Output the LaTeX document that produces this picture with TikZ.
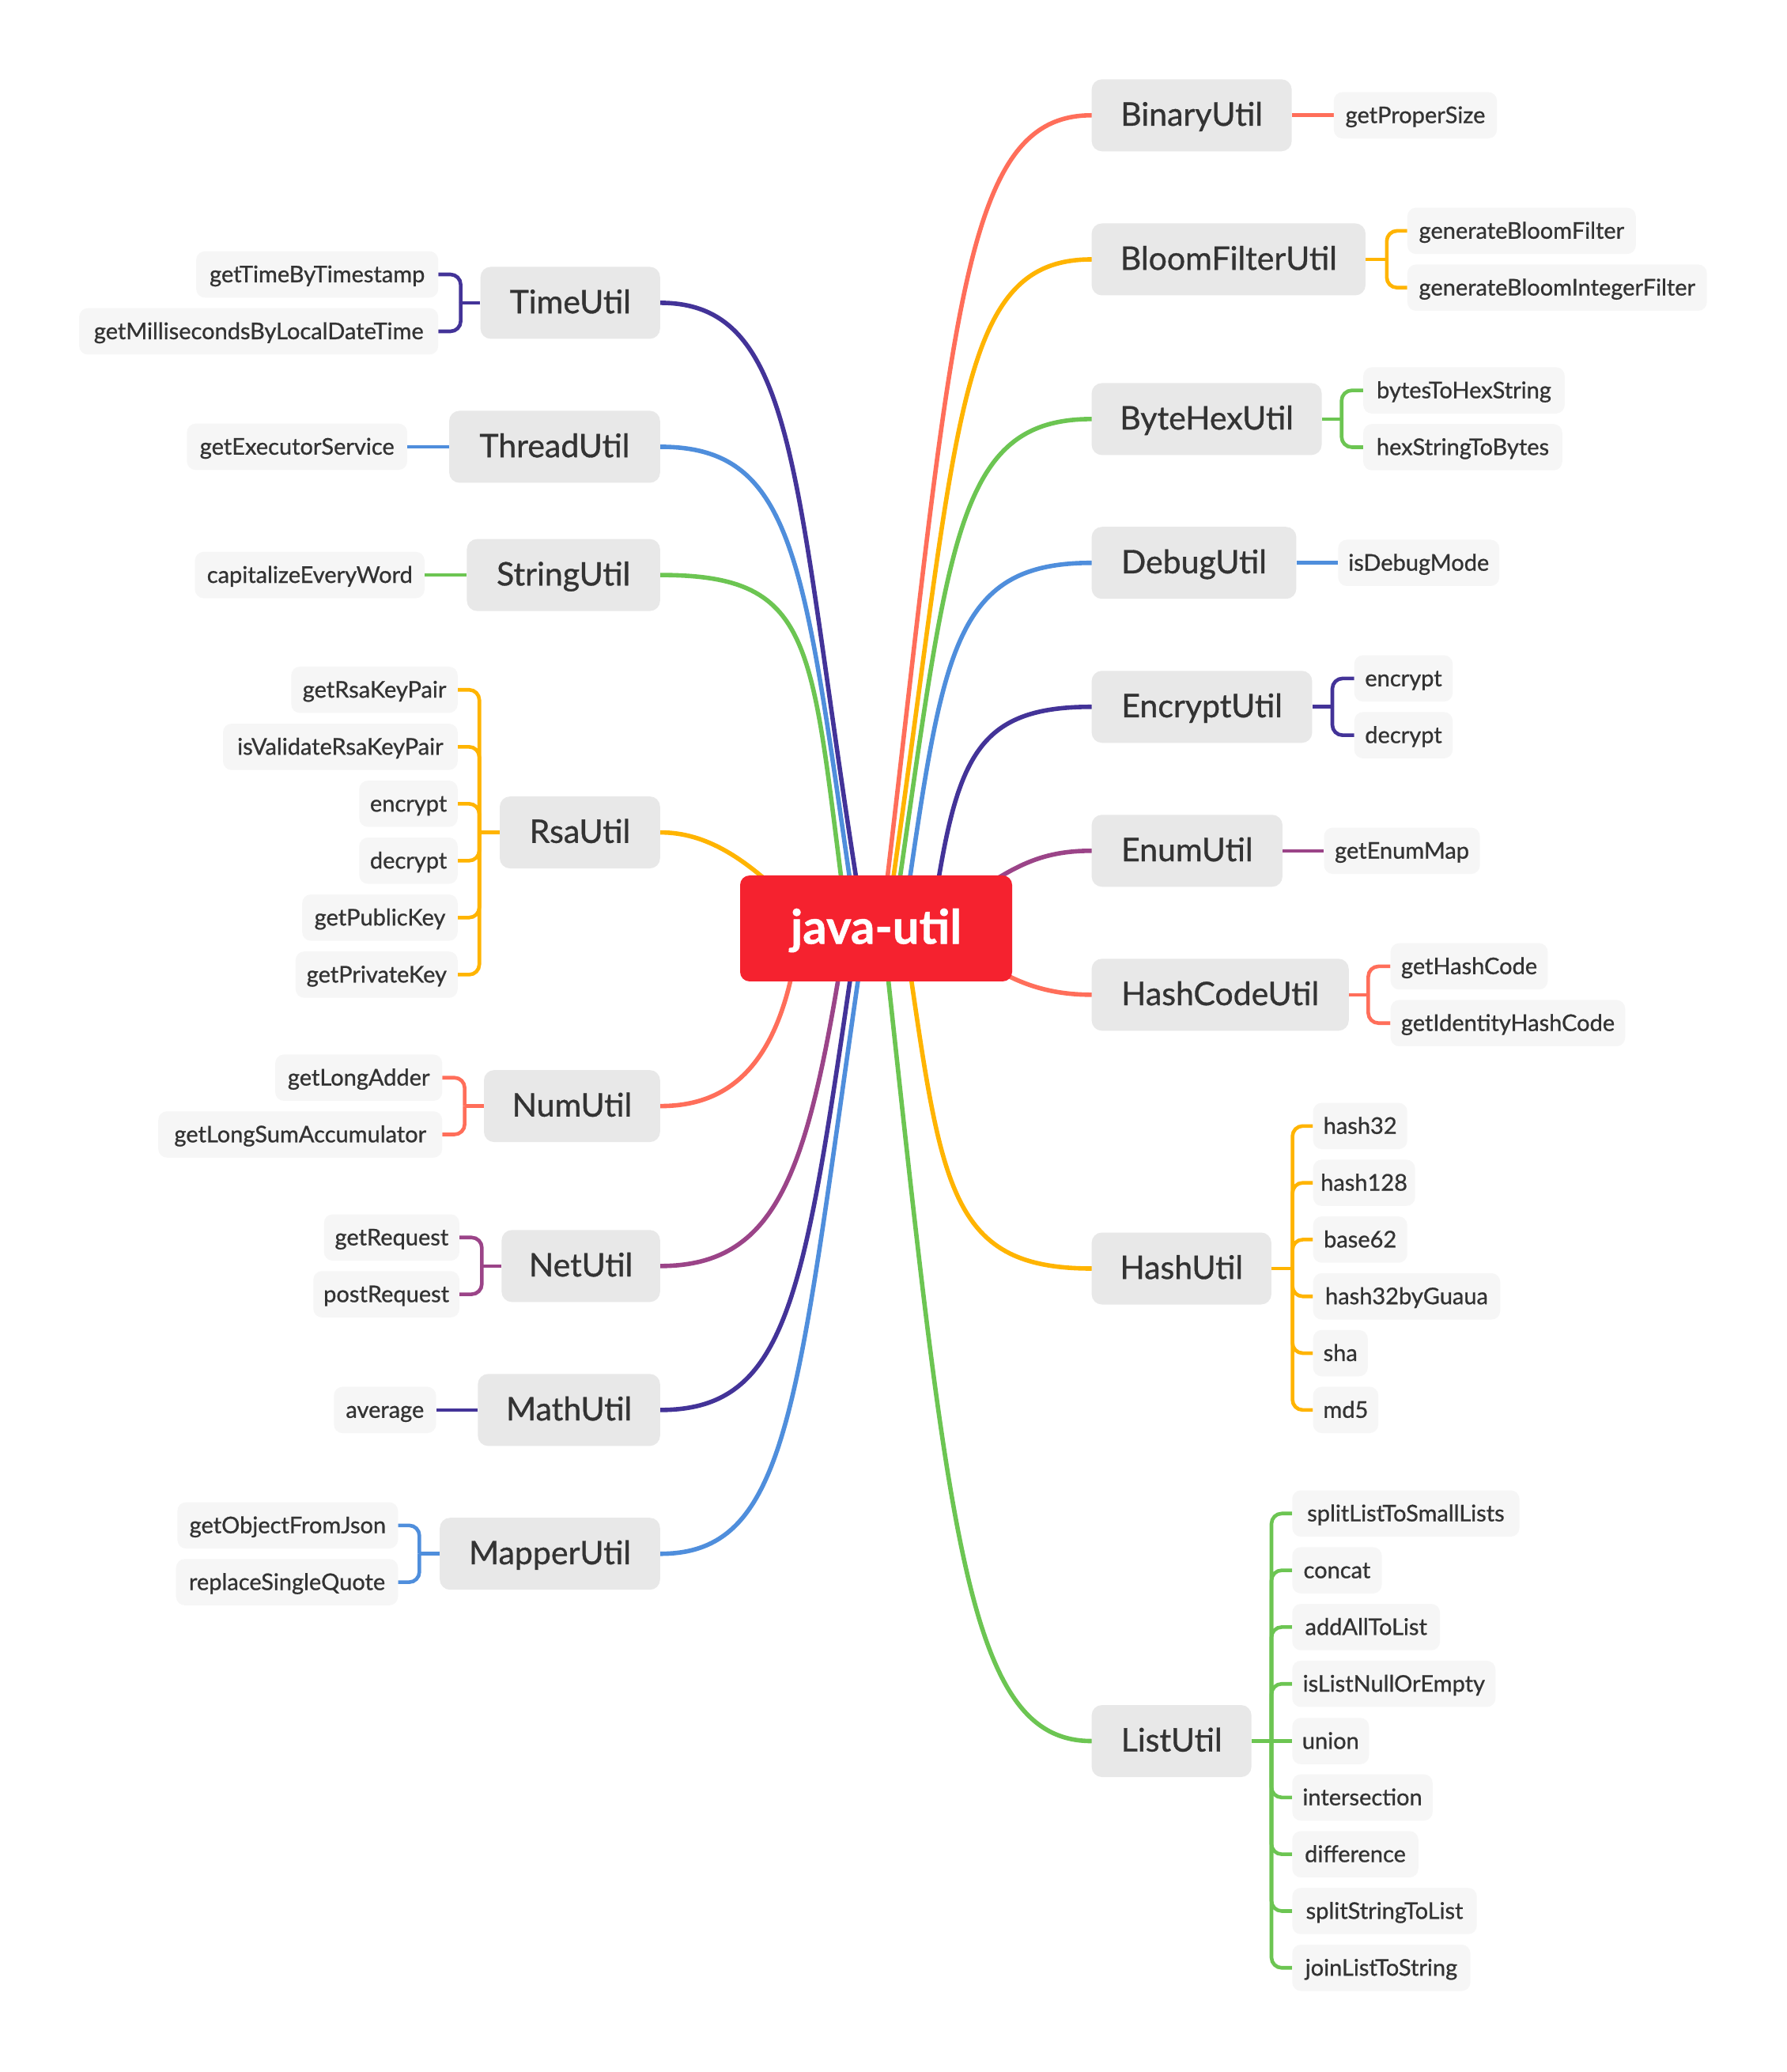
\documentclass[tikz,border=0pt]{standalone}
\usepackage{fontspec}
\setmainfont{Lato}[FakeBold=0.8]
\usetikzlibrary{backgrounds}
\definecolor{cCoral}{HTML}{FF6E5A}
\definecolor{cOrange}{HTML}{FFB400}
\definecolor{cGreen}{HTML}{6CC552}
\definecolor{cBlue}{HTML}{4F8EDC}
\definecolor{cIndigo}{HTML}{433398}
\definecolor{cPurple}{HTML}{9B4488}
\definecolor{rootRed}{HTML}{F5222F}
\definecolor{mainGray}{HTML}{E8E8E8}
\definecolor{leafGray}{HTML}{F6F6F6}
\definecolor{txt}{HTML}{333333}
\begin{document}
\begin{tikzpicture}[x=1.67pt, y=-1.67pt,
  rootbox/.style={fill=rootRed, text=white, rounded corners=12pt, minimum width=344pt, minimum height=134pt, inner sep=0pt, font=\fontsize{60}{60}\selectfont\bfseries, text height=50.8pt, text depth=12pt},
  mainbox/.style={fill=mainGray, text=txt, rounded corners=13pt, minimum height=91pt, inner sep=0pt, font=\fontsize{41}{41}\selectfont, text height=34.4pt, text depth=8pt},
  leafbox/.style={fill=leafGray, text=txt, rounded corners=11pt, minimum height=58.5pt, inner sep=0pt, font=\fontsize{29}{29}\selectfont, text height=25.8pt, text depth=6pt},
  bw/.style={minimum width={#1*1.67pt}},
  branch/.style={line width=5.6pt, line cap=round},
  twig/.style={line width=4.6pt, rounded corners=13pt},
]
\useasboundingbox (0,0) rectangle (1353.3,1568.9);

% root
\node[rootbox] (root) at (663.5,703) {java-util};

% right main nodes
\node[mainbox, bw=151.5, anchor=west] (bin)    at (826.6,87.3)  {BinaryUtil};
\node[mainbox, bw=207.4, anchor=west] (bloom)  at (826.6,196.4) {BloomFilterUtil};
\node[mainbox, bw=174.2, anchor=west] (bhex)   at (826.6,317.3) {ByteHexUtil};
\node[mainbox, bw=155,   anchor=west] (debug)  at (826.6,426.2) {DebugUtil};
\node[mainbox, bw=167,   anchor=west] (encr)   at (826.6,535.2) {EncryptUtil};
\node[mainbox, bw=144.5, anchor=west] (enum)   at (826.6,644.2) {EnumUtil};
\node[mainbox, bw=194.7, anchor=west] (hcode)  at (826.6,753.2) {HashCodeUtil};
\node[mainbox, bw=136.1, anchor=west] (hash)   at (826.6,960.5) {HashUtil};
\node[mainbox, bw=121,   anchor=west] (list)   at (826.6,1318.3) {ListUtil};

% left main nodes
\node[mainbox, bw=136,   anchor=east] (time)   at (500,229.3)  {TimeUtil};
\node[mainbox, bw=159.7, anchor=east] (thread) at (500,338.3)  {ThreadUtil};
\node[mainbox, bw=146.3, anchor=east] (string) at (500,435.4)  {StringUtil};
\node[mainbox, bw=121.4, anchor=east] (rsa)    at (500,630.3)  {RsaUtil};
\node[mainbox, bw=133.4, anchor=east] (num)    at (500,837.5)  {NumUtil};
\node[mainbox, bw=120,   anchor=east] (net)    at (500,958.6)  {NetUtil};
\node[mainbox, bw=138,   anchor=east] (math)   at (500,1067.6) {MathUtil};
\node[mainbox, bw=166.8, anchor=east] (mapper) at (500,1176.5) {MapperUtil};

% right leaves
\node[leafbox, bw=123.5, anchor=west] (getProperSize) at (1010,87.3) {getProperSize};
\node[leafbox, bw=173,   anchor=west] (genBF)  at (1065.7,174.8) {generateBloomFilter};
\node[leafbox, bw=226.8, anchor=west] (genBIF) at (1065.7,217.8) {generateBloomIntegerFilter};
\node[leafbox, bw=152.5, anchor=west] (b2h)    at (1032.3,295.6) {bytesToHexString};
\node[leafbox, bw=150.7, anchor=west] (h2b)    at (1032.3,338.6) {hexStringToBytes};
\node[leafbox, bw=122,   anchor=west] (isDebug) at (1013.3,426.2) {isDebugMode};
\node[leafbox, bw=74.5,  anchor=west] (encE)   at (1025.5,513.7) {encrypt};
\node[leafbox, bw=74.5,  anchor=west] (encD)   at (1025.5,556.7) {decrypt};
\node[leafbox, bw=118,   anchor=west] (enumMap) at (1002.6,644.2) {getEnumMap};
\node[leafbox, bw=119,   anchor=west] (ghc)    at (1053,731.7) {getHashCode};
\node[leafbox, bw=177.6, anchor=west] (gihc)   at (1053,774.7) {getIdentityHashCode};
\node[leafbox, bw=71.3,  anchor=west] (h32)    at (994.3,852.6)  {hash32};
\node[leafbox, bw=77.2,  anchor=west] (h128)   at (994.3,895.6)  {hash128};
\node[leafbox, bw=71.3,  anchor=west] (b62)    at (994.3,938.6)  {base62};
\node[leafbox, bw=141.7, anchor=west] (h32g)   at (994.3,981.6)  {hash32byGuaua};
\node[leafbox, bw=41.4,  anchor=west] (sha)    at (994.3,1024.6) {sha};
\node[leafbox, bw=49.4,  anchor=west] (md5)    at (994.3,1067.6) {md5};
\node[leafbox, bw=172,   anchor=west] (l1) at (978.5,1146) {splitListToSmallLists};
\node[leafbox, bw=67.8,  anchor=west] (l2) at (978.5,1189) {concat};
\node[leafbox, bw=111.9, anchor=west] (l3) at (978.5,1232) {addAllToList};
\node[leafbox, bw=153.9, anchor=west] (l4) at (978.5,1275) {isListNullOrEmpty};
\node[leafbox, bw=58.1,  anchor=west] (l5) at (978.5,1318.3) {union};
\node[leafbox, bw=106.3, anchor=west] (l6) at (978.5,1361) {intersection};
\node[leafbox, bw=95.5,  anchor=west] (l7) at (978.5,1404) {difference};
\node[leafbox, bw=139.8, anchor=west] (l8) at (978.5,1447) {splitStringToList};
\node[leafbox, bw=134.9, anchor=west] (l9) at (978.5,1490) {joinListToString};

% left leaves
\node[leafbox, bw=183.3, anchor=east] (gtbt) at (332,207.8) {getTimeByTimestamp};
\node[leafbox, bw=271.9, anchor=east] (gmbl) at (332,250.9) {getMillisecondsByLocalDateTime};
\node[leafbox, bw=166.8, anchor=east] (ges)  at (308.5,338.3) {getExecutorService};
\node[leafbox, bw=173.8, anchor=east] (cew)  at (321.6,435.4) {capitalizeEveryWord};
\node[leafbox, bw=126,   anchor=east] (r1) at (346.7,522.3) {getRsaKeyPair};
\node[leafbox, bw=177.7, anchor=east] (r2) at (346.7,565.5) {isValidateRsaKeyPair};
\node[leafbox, bw=74.5,  anchor=east] (r3) at (346.7,608.6) {encrypt};
\node[leafbox, bw=74.5,  anchor=east] (r4) at (346.7,651.7) {decrypt};
\node[leafbox, bw=117.7, anchor=east] (r5) at (346.7,694.8) {getPublicKey};
\node[leafbox, bw=122.7, anchor=east] (r6) at (346.7,738)   {getPrivateKey};
\node[leafbox, bw=126.4, anchor=east] (gla)  at (335,816) {getLongAdder};
\node[leafbox, bw=215,   anchor=east] (glsa) at (335,859) {getLongSumAccumulator};
\node[leafbox, bw=102.5, anchor=east] (greq) at (348,937) {getRequest};
\node[leafbox, bw=110.6, anchor=east] (preq) at (348,980) {postRequest};
\node[leafbox, bw=77.3,  anchor=east] (avg)  at (330.3,1067.6) {average};
\node[leafbox, bw=167,   anchor=east] (gofj) at (301.5,1155) {getObjectFromJson};
\node[leafbox, bw=168,   anchor=east] (rsq)  at (301.5,1198) {replaceSingleQuote};

% junctions
\coordinate (jBloom) at (1050.2,196.4);
\coordinate (jBhex)  at (1016,317.3);
\coordinate (jEncr)  at (1009,535.2);
\coordinate (jHcode) at (1036.2,753.2);
\coordinate (jHash)  at (978.8,960.5);
\coordinate (jList)  at (962.9,1318.3);
\coordinate (jTime)  at (348.9,229.3);
\coordinate (jRsa)   at (363,630.3);
\coordinate (jNum)   at (351.9,837.5);
\coordinate (jNet)   at (364.9,958.6);
\coordinate (jMapper) at (317.6,1176.5);

\begin{pgfonlayer}{background}
\fill[white] (0,0) rectangle (1353.3,1568.9);
% main branches
\draw[branch, cIndigo] (654.5,703) .. controls (600.5,372) and (608,229.3) .. (time.east);
\draw[branch, cBlue]   (649,703) .. controls (609,429.5) and (605,338.3) .. (thread.east);
\draw[branch, cGreen]  (642,703) .. controls (613.6,489) and (620.7,435.4) .. (string.east);
\draw[branch, cOrange] (600,685) .. controls (565,650) and (535,630.3) .. (rsa.east);
\draw[branch, cCoral]  (603,720) .. controls (588,815) and (545,837.5) .. (num.east);
\draw[branch, cPurple] (641,703) .. controls (613,882) and (592,958.6) .. (net.east);
\draw[branch, cIndigo] (649.5,703) .. controls (609.5,976) and (600,1067.6) .. (math.east);
\draw[branch, cBlue]   (655.5,703) .. controls (603.5,1058) and (601,1176.5) .. (mapper.east);
\draw[branch, cCoral]  (667.5,703) .. controls (722.5,241.2) and (726.6,87.3) .. (bin.west);
\draw[branch, cOrange] (671,703) .. controls (726.7,323) and (721.6,196.4) .. (bloom.west);
\draw[branch, cGreen]  (676,703) .. controls (718.4,413.7) and (721.6,317.3) .. (bhex.west);
\draw[branch, cBlue]   (683.5,703) .. controls (713.9,495.4) and (719.6,426.2) .. (debug.west);
\draw[branch, cIndigo] (705,703) .. controls (723.5,577) and (735.6,535.2) .. (encr.west);
\draw[branch, cPurple] (740,675) .. controls (770,655) and (790,644.2) .. (enum.west);
\draw[branch, cCoral]  (745,728) .. controls (770,745) and (795,753.2) .. (hcode.west);
\draw[branch, cOrange] (684.5,703) .. controls (712.8,896) and (715.6,960.5) .. (hash.west);
\draw[branch, cGreen]  (668.5,703) .. controls (718.5,1164.5) and (731.6,1318.3) .. (list.west);

% leaf connectors right
\draw[twig, cCoral] (bin.east) -- (getProperSize.west);
\draw[twig, cOrange] (bloom.east) -- (jBloom);
\draw[twig, cOrange] (jBloom) |- (genBF.west);
\draw[twig, cOrange] (jBloom) |- (genBIF.west);
\draw[twig, cGreen] (bhex.east) -- (jBhex);
\draw[twig, cGreen] (jBhex) |- (b2h.west);
\draw[twig, cGreen] (jBhex) |- (h2b.west);
\draw[twig, cBlue] (debug.east) -- (isDebug.west);
\draw[twig, cIndigo] (encr.east) -- (jEncr);
\draw[twig, cIndigo] (jEncr) |- (encE.west);
\draw[twig, cIndigo] (jEncr) |- (encD.west);
\draw[twig, cPurple] (enum.east) -- (enumMap.west);
\draw[twig, cCoral] (hcode.east) -- (jHcode);
\draw[twig, cCoral] (jHcode) |- (ghc.west);
\draw[twig, cCoral] (jHcode) |- (gihc.west);
\draw[twig, cOrange] (hash.east) -- (jHash);
\foreach \n in {h32,h128,b62,h32g,sha,md5} \draw[twig, cOrange] (jHash) |- (\n.west);
\draw[twig, cGreen] (list.east) -- (jList);
\foreach \n in {l1,l2,l3,l4,l6,l7,l8,l9} \draw[twig, cGreen] (jList) |- (\n.west);
\draw[twig, cGreen] (jList) -- (l5.west);

% leaf connectors left
\draw[twig, cIndigo] (time.west) -- (jTime);
\draw[twig, cIndigo] (jTime) |- (gtbt.east);
\draw[twig, cIndigo] (jTime) |- (gmbl.east);
\draw[twig, cBlue] (thread.west) -- (ges.east);
\draw[twig, cGreen] (string.west) -- (cew.east);
\draw[twig, cOrange] (rsa.west) -- (jRsa);
\foreach \n in {r1,r2,r3,r4,r5,r6} \draw[twig, cOrange] (jRsa) |- (\n.east);
\draw[twig, cCoral] (num.west) -- (jNum);
\draw[twig, cCoral] (jNum) |- (gla.east);
\draw[twig, cCoral] (jNum) |- (glsa.east);
\draw[twig, cPurple] (net.west) -- (jNet);
\draw[twig, cPurple] (jNet) |- (greq.east);
\draw[twig, cPurple] (jNet) |- (preq.east);
\draw[twig, cIndigo] (math.west) -- (avg.east);
\draw[twig, cBlue] (mapper.west) -- (jMapper);
\draw[twig, cBlue] (jMapper) |- (gofj.east);
\draw[twig, cBlue] (jMapper) |- (rsq.east);
\end{pgfonlayer}
\end{tikzpicture}
\end{document}
